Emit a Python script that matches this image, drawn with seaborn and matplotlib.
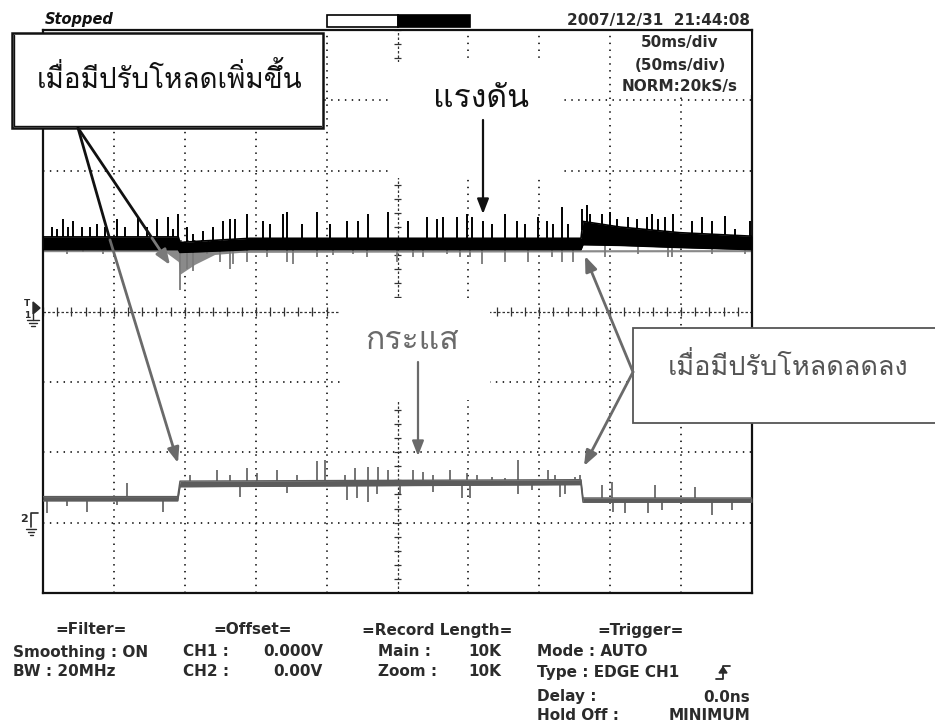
import numpy as np
import matplotlib
matplotlib.use("Agg")
import matplotlib.pyplot as plt
import seaborn as sns
from matplotlib import font_manager
from matplotlib.ft2font import FT2Font
from matplotlib.patches import Rectangle, Polygon

sns.set_style("white")
plt.rcParams["font.family"] = ["DejaVu Sans"]


def thai_family():
    """Pick an installed family that carries the Thai glyphs used below."""
    fallback = None
    for fe in font_manager.fontManager.ttflist:
        try:
            cmap = FT2Font(fe.fname).get_charmap()
        except Exception:
            continue
        if all(ord(c) in cmap for c in "เมื่อปรับโหลดแรงดันกระแส"):
            if fe.style == "normal" and fe.weight in (400, "normal", "regular"):
                return fe.name
            fallback = fallback or fe.name
    return fallback or "DejaVu Sans"


THAI = [thai_family(), "DejaVu Sans"]

# ---------------- scope settings (50 ms/div, 10 div wide, 8 div tall) --------
ms_per_div = 50
n_xdiv, n_ydiv = 10, 8

# ---------------- CH1 : voltage (divisions) ----------------------------------
v_env_t = [0, 95.4, 96.6, 110.7, 146.0, 379.4, 380.8, 407.0, 449.0, 500]
v_env_hi = [1.06, 1.06, 0.98, 1.00, 1.04, 1.04, 1.28, 1.20, 1.12, 1.07]
v_env_lo = [0.88, 0.88, 0.84, 0.85, 0.88, 0.88, 0.95, 0.94, 0.91, 0.88]
v_min_t = [0, 86.0, 95.4, 96.6, 107.0, 121.0, 139.0, 500]
v_min_lo = [0.85, 0.85, 0.71, 0.53, 0.67, 0.81, 0.84, 0.85]

v_up_t = [6.3, 9.9, 14.1, 17.6, 21.2, 27.5, 33.1, 38.1, 43.7, 52.2, 57.8, 67.0,
          73.3, 80.4, 88.1, 91.7, 95.2, 101.5, 105.8, 112.8, 119.9, 126.9,
          131.9, 135.4, 143.9, 155.1, 160.1, 169.3, 172.1, 182.6, 193.2, 202.4,
          214.4, 222.1, 229.2, 243.3, 257.4, 270.8, 277.8, 282.1, 292.0, 299.0,
          302.5, 310.3, 316.6, 325.8, 334.3, 339.9, 349.1, 355.4, 359.7, 366.0,
          370.2, 380.1, 383.6, 385.7, 394.2, 399.8, 404.8, 412.5, 418.9, 425.9,
          429.5, 433.7, 438.6, 444.3, 457.7, 464.7, 471.8, 481.0, 488.0, 498.6]
v_up_top = [1.20, 1.17, 1.31, 1.20, 1.28, 1.20, 1.20, 1.24, 1.20, 1.31, 1.20,
            1.34, 1.20, 1.31, 1.34, 1.17, 1.38, 1.20, 1.10, 1.14, 1.20, 1.28,
            1.31, 1.31, 1.38, 1.28, 1.24, 1.38, 1.41, 1.24, 1.41, 1.24, 1.28,
            1.28, 1.38, 1.41, 1.28, 1.34, 1.31, 1.34, 1.34, 1.38, 1.34, 1.28,
            1.24, 1.38, 1.28, 1.24, 1.34, 1.28, 1.24, 1.49, 1.24, 1.45, 1.52,
            1.38, 1.38, 1.42, 1.31, 1.34, 1.31, 1.34, 1.38, 1.31, 1.34, 1.38,
            1.28, 1.34, 1.28, 1.35, 1.17, 1.28]
v_dn_t = [16.9, 28.2, 42.3, 96.6, 101.5, 105.8, 115.7, 124.8, 131.9, 134.0,
          143.9, 158.0, 172.1, 176.3, 193.2, 204.5, 218.6, 228.5, 249.6, 260.9,
          268.0, 284.9, 294.0, 301.1, 309.6, 325.8, 342.0, 358.9, 366.0, 373.8,
          396.3, 419.6, 440.8, 443.6, 471.8, 495.1]
v_dn_bot = [0.81, 0.84, 0.81, 0.31, 0.60, 0.57, 0.81, 0.71, 0.60, 0.67, 0.71,
            0.77, 0.71, 0.67, 0.77, 0.80, 0.81, 0.77, 0.71, 0.77, 0.77, 0.81,
            0.77, 0.77, 0.67, 0.70, 0.71, 0.77, 0.71, 0.71, 0.77, 0.81, 0.77,
            0.77, 0.81, 0.81]

# ---------------- CH2 : current (divisions) ----------------------------------
i_env_t = [0, 95.0, 96.6, 379.4, 380.8, 500]
i_env_hi = [-2.63, -2.63, -2.41, -2.39, -2.65, -2.65]
i_env_lo = [-2.69, -2.69, -2.49, -2.46, -2.71, -2.71]

i_up_t = [59.2, 103.7, 122.7, 131.9, 143.9, 150.9, 165.0, 179.1, 193.2, 198.9,
          212.9, 220.0, 229.2, 236.2, 243.3, 260.9, 268.0, 275.0, 287.0, 299.0,
          306.1, 316.6, 325.8, 335.0, 356.1, 361.1, 375.2, 378.7, 394.2, 401.3,
          431.6, 459.8]
i_up_top = [-2.43, -2.32, -2.25, -2.32, -2.22, -2.29, -2.25, -2.32, -2.13,
            -2.11, -2.32, -2.22, -2.21, -2.21, -2.25, -2.25, -2.28, -2.32,
            -2.25, -2.29, -2.32, -2.35, -2.36, -2.11, -2.25, -2.32, -2.35,
            -2.32, -2.46, -2.42, -2.46, -2.49]
i_dn_t = [2.8, 16.9, 31.0, 52.2, 84.6, 138.9, 172.1, 214.4, 221.4, 229.2,
          235.5, 251.8, 275.0, 295.5, 301.1, 335.0, 344.8, 364.6, 368.1,
          402.0, 410.4, 426.6, 436.5, 471.8, 485.9]
i_dn_bot = [-2.86, -2.77, -2.85, -2.75, -2.85, -2.63, -2.58, -2.68, -2.65,
            -2.70, -2.60, -2.60, -2.56, -2.65, -2.65, -2.60, -2.53, -2.63,
            -2.60, -2.85, -2.86, -2.86, -2.82, -2.89, -2.82]

# ---------------- figure ------------------------------------------------------
W, H = 935, 728
fig = plt.figure(figsize=(W / 100, H / 100), dpi=100)
fig.patch.set_facecolor("white")

L, R, T, B = 43, 752, 30, 593
ax = fig.add_axes([L / W, 1 - B / H, (R - L) / W, (B - T) / H])
ax.set_xlim(0, ms_per_div * n_xdiv)
ax.set_ylim(-n_ydiv / 2, n_ydiv / 2)
ax.set_xticks([])
ax.set_yticks([])
for s in ax.spines.values():
    s.set_color("#111111")
    s.set_linewidth(1.6)

# graticule
dot = (0, (0.8, 3.0))
for i in range(1, n_xdiv):
    if i == n_xdiv // 2:
        continue
    ax.axvline(i * ms_per_div, color="#222222", lw=1.3, ls=dot, zorder=1)
for j in range(-n_ydiv // 2 + 1, n_ydiv // 2):
    if j == 0:
        continue
    ax.axhline(j, color="#222222", lw=1.3, ls=dot, zorder=1)

xc = ms_per_div * n_xdiv / 2
ax.axhline(0, color="#333333", lw=0.9, ls=(0, (2, 1.6)), zorder=1)
ax.axvline(xc, color="#333333", lw=0.9, ls=(0, (2, 1.6)), zorder=1)
minor_x = np.arange(0, 500.1, 10)
ax.vlines(minor_x, -0.06, 0.06, color="#333333", lw=0.9, zorder=1)
minor_y = np.arange(-4, 4.01, 0.2)
ax.hlines(minor_y, xc - 2.8, xc + 2.8, color="#333333", lw=0.9, zorder=1)

# CH1 voltage trace
ax.fill_between(v_min_t, v_min_lo, np.interp(v_min_t, v_env_t, v_env_lo),
                color="#8a8a8a", lw=0, zorder=2)
ax.vlines(v_dn_t, v_dn_bot, np.interp(v_dn_t, v_env_t, v_env_lo),
          color="#7a7a7a", lw=1.3, zorder=2)
ax.fill_between(v_env_t, v_env_lo, v_env_hi, color="black", lw=0, zorder=3)
sns.lineplot(x=v_env_t, y=v_env_hi, ax=ax, color="black", lw=1.2,
             estimator=None, zorder=3)
sns.lineplot(x=v_env_t, y=v_env_lo, ax=ax, color="black", lw=1.2,
             estimator=None, zorder=3)
ax.vlines(v_up_t, np.interp(v_up_t, v_env_t, v_env_hi), v_up_top,
          color="black", lw=1.4, zorder=3)

# CH2 current trace
gray = "#5c5c5c"
ax.fill_between(i_env_t, i_env_lo, i_env_hi, color=gray, lw=0, zorder=3)
sns.lineplot(x=i_env_t, y=i_env_hi, ax=ax, color=gray, lw=1.0,
             estimator=None, zorder=3)
sns.lineplot(x=i_env_t, y=i_env_lo, ax=ax, color=gray, lw=1.0,
             estimator=None, zorder=3)
ax.vlines(i_up_t, np.interp(i_up_t, i_env_t, i_env_hi), i_up_top,
          color=gray, lw=1.2, zorder=3)
ax.vlines(i_dn_t, i_dn_bot, np.interp(i_dn_t, i_env_t, i_env_lo),
          color=gray, lw=1.2, zorder=3)
ax.set_xlim(0, ms_per_div * n_xdiv)
ax.set_ylim(-n_ydiv / 2, n_ydiv / 2)

# ---------------- overlay in pixel coordinates ------------------------------
ov = fig.add_axes([0, 0, 1, 1], zorder=5)
ov.set_xlim(0, W)
ov.set_ylim(H, 0)
ov.axis("off")
ov.patch.set_alpha(0)

txt = "#2b2b2b"
mono = dict(family="DejaVu Sans", fontweight="bold", color=txt, fontsize=11)

# header
ov.text(45, 24, "Stopped", fontsize=10.5, fontweight="bold", style="italic",
        color="#111111", va="baseline")
ov.add_patch(Rectangle((327, 15), 71, 12, fc="white", ec="black", lw=1.2))
ov.add_patch(Rectangle((398, 15), 72, 12, fc="black", ec="black", lw=1.2))
ov.text(750, 25, "2007/12/31  21:44:08", ha="right", va="baseline", **mono)

# blank areas behind the screen texts
for x0, y0, w, h in [(614, 32, 137, 63), (392, 62, 168, 116),
                     (340, 298, 150, 102)]:
    ov.add_patch(Rectangle((x0, y0), w, h, fc="white", ec="none"))
for y, s in [(43, "50ms/div"), (65, "(50ms/div)"), (87, "NORM:20kS/s")]:
    ov.text(680, y, s, ha="center", va="center", **mono)

# channel markers
ov.text(27, 304, "T", ha="center", va="center", fontsize=6.5,
        fontweight="bold", color=txt)
ov.text(27, 316, "1", ha="center", va="center", fontsize=6.5,
        fontweight="bold", color=txt)
ov.add_patch(Polygon([(33, 302), (33, 314), (40, 308)], closed=True,
                     fc=txt, ec=txt))
for k, hw in enumerate([6, 4, 2]):
    ov.plot([33 - hw, 33 + hw], [320 + 3 * k] * 2, color=txt, lw=1)
ov.plot([33, 33], [314, 320], color=txt, lw=1)

ov.text(24, 519, "2", ha="center", va="center", fontsize=8,
        fontweight="bold", color=txt)
ov.plot([31, 31, 38], [527, 513, 513], color=txt, lw=1.2)
for k, hw in enumerate([5, 3, 1.5]):
    ov.plot([31 - hw, 31 + hw], [529 + 3 * k] * 2, color=txt, lw=1)

head = "-|>,head_length=0.9,head_width=0.35"

# annotation: load increase
ov.add_patch(Rectangle((12, 33), 311, 95, fc="white", ec="#111111", lw=1.8))
ov.plot([14, 14, 321], [35, 126, 126], color="#111111", lw=1.0)
ov.text(170, 79, "เมื่อมีปรับโหลดเพิ่มขึ้น", ha="center", va="center",
        family=THAI, fontsize=20, color="#111111")
ov.plot([78, 110], [128, 240], color="#111111", lw=2.0)
ov.plot([78, 152], [128, 238], color="#111111", lw=2.0)
ov.annotate("", xy=(178, 463), xytext=(110, 240),
            arrowprops=dict(arrowstyle=head, color="#6a6a6a", lw=2.0,
                            shrinkA=0, shrinkB=0))
ov.annotate("", xy=(170, 265), xytext=(152, 238),
            arrowprops=dict(arrowstyle=head, color="#7a7a7a", lw=2.0,
                            shrinkA=0, shrinkB=0))

# channel labels
ov.text(481, 99, "แรงดัน", ha="center", va="center", family=THAI,
        fontsize=23, color="#111111")
ov.annotate("", xy=(483, 214), xytext=(483, 120),
            arrowprops=dict(arrowstyle=head, color="#111111", lw=1.6,
                            shrinkA=0, shrinkB=0))
ov.text(412, 341, "กระแส", ha="center", va="center", family=THAI,
        fontsize=23, color="#6a6a6a")
ov.annotate("", xy=(418, 456), xytext=(418, 362),
            arrowprops=dict(arrowstyle=head, color="#6a6a6a", lw=1.6,
                            shrinkA=0, shrinkB=0))

# annotation: load decrease
ov.add_patch(Rectangle((633, 328), 320, 95, fc="white", ec="#555555", lw=1.3))
ov.text(788, 366, "เมื่อมีปรับโหลดลดลง", ha="center", va="center",
        family=THAI, fontsize=19.5, color="#555555")
for tip in [(585, 256), (584, 466)]:
    ov.annotate("", xy=tip, xytext=(633, 372),
                arrowprops=dict(arrowstyle=head, color="#6a6a6a", lw=2.0,
                                shrinkA=0, shrinkB=0))

# settings panel
ov.text(55, 630, "=Filter=", va="center", **mono)
ov.text(13, 652, "Smoothing : ON", va="center", **mono)
ov.text(13, 672, "BW : 20MHz", va="center", **mono)
ov.text(213, 630, "=Offset=", va="center", **mono)
ov.text(183, 652, "CH1 :", va="center", **mono)
ov.text(323, 652, "0.000V", va="center", ha="right", **mono)
ov.text(183, 672, "CH2 :", va="center", **mono)
ov.text(323, 672, "0.00V", va="center", ha="right", **mono)
ov.text(362, 630, "=Record Length=", va="center", **mono)
ov.text(378, 652, "Main :", va="center", **mono)
ov.text(468, 652, "10K", va="center", **mono)
ov.text(378, 672, "Zoom :", va="center", **mono)
ov.text(468, 672, "10K", va="center", **mono)
ov.text(597, 630, "=Trigger=", va="center", **mono)
ov.text(537, 652, "Mode : AUTO", va="center", **mono)
ov.text(537, 673, "Type : EDGE CH1", va="center", **mono)
ov.plot([716, 723, 723, 730], [679, 679, 666, 666], color=txt, lw=1.3)
ov.add_patch(Polygon([(719, 673), (727, 673), (723, 667)], closed=True,
                     fc=txt, ec=txt))
ov.text(537, 697, "Delay :", va="center", **mono)
ov.text(750, 697, "0.0ns", va="center", ha="right", **mono)
ov.text(537, 716, "Hold Off :", va="center", **mono)
ov.text(750, 716, "MINIMUM", va="center", ha="right", **mono)

fig.savefig("out.png", dpi=100, facecolor="white")
